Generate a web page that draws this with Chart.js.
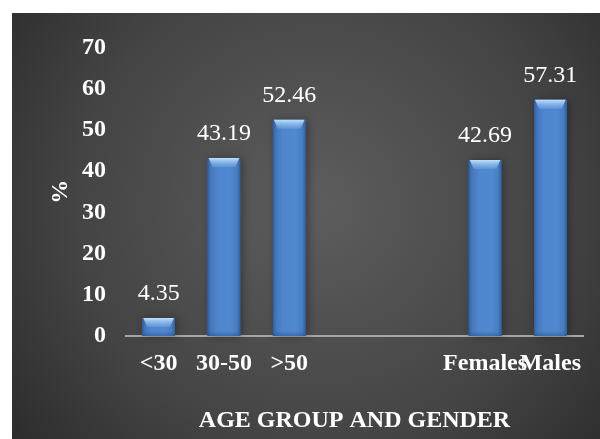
<!DOCTYPE html>
<html>
<head>
<meta charset="utf-8">
<script src="https://cdn.jsdelivr.net/npm/chart.js@4/dist/chart.umd.min.js"></script>
<style>
  html, body { margin: 0; padding: 0; background: #ffffff; }
  #wrap { position: absolute; left: 12px; top: 13px; width: 588px; height: 426px; }
  canvas { display: block; }
</style>
</head>
<body>
<div id="wrap"><canvas id="chart" width="588" height="426"></canvas></div>
<script>
// Share of respondents by age group and gender (%)
const categories = ['<30', '30-50', '>50', '', '', 'Females', 'Males'];
const percentValues = [4.35, 43.19, 52.46, null, null, 42.69, 57.31];
const yTicks = [0, 10, 20, 30, 40, 50, 60, 70];

const SERIF = "'Liberation Serif', 'Times New Roman', Times, serif";
const TEXT_SIZE = 24;

// Dark radial backdrop behind the whole chart
const backdrop = {
  id: 'backdrop',
  beforeDraw(chart) {
    const { ctx, width, height } = chart;
    ctx.save();
    const g = ctx.createRadialGradient(width * 0.52, height * 0.45, 10, width * 0.52, height * 0.45, 430);
    g.addColorStop(0, '#5c5c5c');
    g.addColorStop(0.55, '#444444');
    g.addColorStop(1, '#252525');
    ctx.fillStyle = g;
    ctx.fillRect(0, 0, width, height);
    ctx.restore();
  }
};

// Soft shadow under each bar, and glossy shading on top of it
const barGloss = {
  id: 'barGloss',
  beforeDatasetsDraw(chart) {
    const { ctx } = chart;
    const meta = chart.getDatasetMeta(0);
    ctx.save();
    meta.data.forEach((bar, i) => {
      if (percentValues[i] == null) return;
      const { x, y, base, width } = bar.getProps(['x', 'y', 'base', 'width'], true);
      ctx.shadowColor = 'rgba(0,0,0,0.55)';
      ctx.shadowBlur = 8;
      ctx.shadowOffsetX = 2;
      ctx.shadowOffsetY = 0;
      ctx.fillStyle = 'rgba(20,20,20,0.6)';
      ctx.fillRect(x - width / 2, y, width, base - y);
    });
    ctx.restore();
  },
  afterDatasetsDraw(chart) {
    const { ctx } = chart;
    const meta = chart.getDatasetMeta(0);
    ctx.save();
    meta.data.forEach((bar, i) => {
      if (percentValues[i] == null) return;
      const { x, y, base, width } = bar.getProps(['x', 'y', 'base', 'width'], true);
      const left = x - width / 2, right = x + width / 2;
      const h = base - y;
      // body shading across the bar
      const body = ctx.createLinearGradient(left, 0, right, 0);
      body.addColorStop(0, '#2f5e9f');
      body.addColorStop(0.1, '#4478bd');
      body.addColorStop(0.3, '#4f86cd');
      body.addColorStop(0.7, '#5089cf');
      body.addColorStop(0.9, '#467dc3');
      body.addColorStop(1, '#305fa0');
      ctx.fillStyle = body;
      ctx.fillRect(left, y, width, h);
      // beveled highlight cap
      const capH = Math.min(9, h * 0.5);
      const inset = Math.min(5, width * 0.15);
      const cap = ctx.createLinearGradient(0, y, 0, y + capH);
      cap.addColorStop(0, 'rgba(200,230,255,0.95)');
      cap.addColorStop(1, 'rgba(130,180,235,0.35)');
      ctx.fillStyle = cap;
      ctx.beginPath();
      ctx.moveTo(left + 1, y);
      ctx.lineTo(right - 1, y);
      ctx.lineTo(right - inset, y + capH);
      ctx.lineTo(left + inset, y + capH);
      ctx.closePath();
      ctx.fill();
      // faint bottom bevel
      const bot = ctx.createLinearGradient(0, base - 5, 0, base);
      bot.addColorStop(0, 'rgba(40,80,140,0)');
      bot.addColorStop(1, 'rgba(40,80,140,0.5)');
      ctx.fillStyle = bot;
      ctx.fillRect(left, base - 5, width, 5);
    });
    ctx.restore();
  }
};

// Value printed above each bar
const valueLabels = {
  id: 'valueLabels',
  afterDatasetsDraw(chart) {
    const { ctx } = chart;
    const meta = chart.getDatasetMeta(0);
    ctx.save();
    ctx.font = 'normal 400 ' + TEXT_SIZE + 'px ' + SERIF;
    ctx.fillStyle = '#ffffff';
    ctx.textAlign = 'center';
    ctx.textBaseline = 'alphabetic';
    meta.data.forEach((bar, i) => {
      const v = percentValues[i];
      if (v == null) return;
      ctx.fillText(v.toFixed(2), bar.x, bar.y - 18);
    });
    ctx.restore();
  }
};

new Chart(document.getElementById('chart'), {
  type: 'bar',
  data: {
    labels: categories,
    datasets: [{
      data: percentValues,
      backgroundColor: '#4a82c9',
      borderWidth: 0,
      categoryPercentage: 1.0,
      barPercentage: 0.5
    }]
  },
  options: {
    responsive: false,
    animation: false,
    events: [],
    layout: { padding: { top: 29, right: 17, bottom: 0, left: 0 } },
    plugins: {
      legend: { display: false },
      tooltip: { enabled: false },
      title: { display: false }
    },
    scales: {
      x: {
        z: 1,
        grid: { display: false, drawTicks: false },
        border: { display: true, color: '#a6a6a6', width: 2 },
        ticks: {
          color: '#ffffff',
          font: { family: SERIF, size: TEXT_SIZE, weight: 'bold' },
          padding: 13,
          autoSkip: false,
          maxRotation: 0,
          minRotation: 0
        },
        title: {
          display: true,
          text: 'AGE GROUP AND GENDER',
          color: '#ffffff',
          font: { family: SERIF, size: TEXT_SIZE, weight: 'bold' },
          padding: { top: 0, bottom: 4 }
        },
        afterFit(scale) { scale.height = 103; }
      },
      y: {
        min: 0,
        max: 70,
        afterBuildTicks(scale) { scale.ticks = yTicks.map(v => ({ value: v })); },
        grid: { display: false, drawTicks: false },
        border: { display: false },
        ticks: {
          color: '#ffffff',
          font: { family: SERIF, size: TEXT_SIZE, weight: 'bold' },
          padding: 20
        },
        title: {
          display: true,
          text: '%',
          color: '#ffffff',
          font: { family: SERIF, size: TEXT_SIZE, weight: 'bold' },
          padding: { top: 34, bottom: 8 }
        },
        afterFit(scale) { scale.width = 114; }
      }
    }
  },
  plugins: [backdrop, barGloss, valueLabels]
});
</script>
</body>
</html>
